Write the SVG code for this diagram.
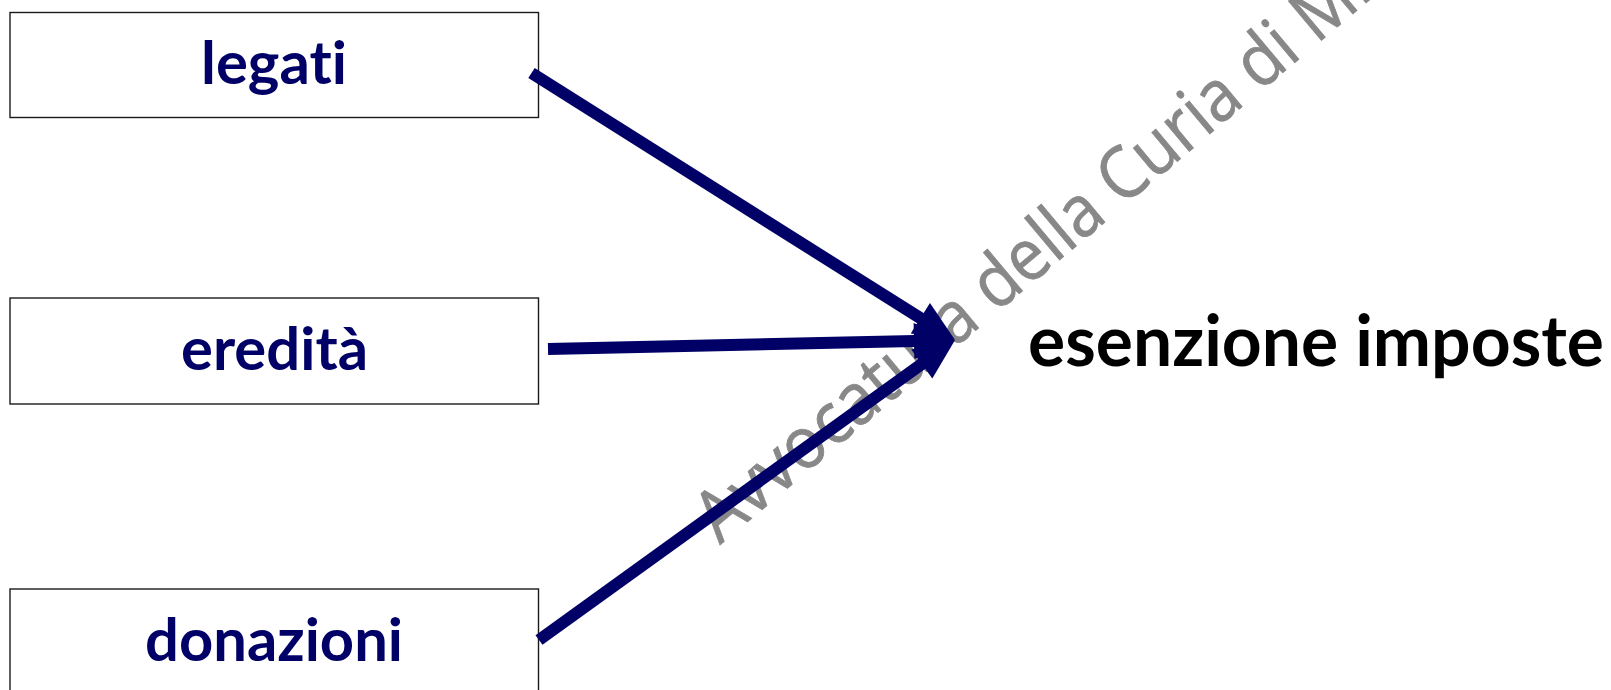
<svg xmlns="http://www.w3.org/2000/svg" width="1611" height="690" viewBox="0 0 1611 690">
  <style>
    text { font-variant-ligatures: none; }
    .box { fill: #ffffff; stroke: #1a1a1a; stroke-width: 1.4; }
    .label { font-family: Lato, "Open Sans", "Liberation Sans", sans-serif; font-weight: bold; font-size: 60px; fill: #000066; text-anchor: middle; }
    .target { font-family: Lato, "Open Sans", "Liberation Sans", sans-serif; font-weight: bold; font-size: 70px; fill: #000000; }
    .mark { font-family: "Open Sans", "Liberation Sans", sans-serif; font-size: 72px; fill: #888888; stroke: #888888; stroke-width: 0.8; }
    .conn { stroke: #000066; stroke-width: 12; fill: none; marker-end: url(#head); }
  </style>
  <defs>
    <marker id="head" markerUnits="userSpaceOnUse" markerWidth="44" markerHeight="40" viewBox="-2 -20 44 40" refX="0" refY="0" orient="auto">
      <path d="M-1,-18 L40,0 L-1,18 Z" fill="#000066"/>
    </marker>
  </defs>

  <rect width="1611" height="690" fill="#ffffff"/>

  <!-- watermark -->
  <text class="mark" x="720" y="545" transform="rotate(-40 720 545)" textLength="988" lengthAdjust="spacingAndGlyphs">Avvocatura della Curia di Milano</text>

  <g id="node-legati">
    <rect class="box" x="10" y="12.5" width="528.5" height="105"/>
    <text class="label" x="274" y="84" textLength="146" lengthAdjust="spacingAndGlyphs">legati</text>
  </g>

  <g id="node-eredita">
    <rect class="box" x="10" y="298" width="528.5" height="106"/>
    <text class="label" x="274.5" y="370" textLength="187" lengthAdjust="spacingAndGlyphs">eredità</text>
  </g>

  <g id="node-donazioni">
    <rect class="box" x="10" y="589" width="528.5" height="110"/>
    <text class="label" x="274" y="661" textLength="258" lengthAdjust="spacingAndGlyphs">donazioni</text>
  </g>

  <g id="node-esenzione">
    <text class="target" x="1028" y="366" textLength="576" lengthAdjust="spacingAndGlyphs">esenzione imposte</text>
  </g>

  <g id="connectors">
    <line class="conn" x1="531.5" y1="73" x2="921.2" y2="318.7"/>
    <line class="conn" x1="548" y1="349" x2="915" y2="340.9"/>
    <line class="conn" x1="539" y1="640" x2="922.6" y2="363.4"/>
  </g>
</svg>
